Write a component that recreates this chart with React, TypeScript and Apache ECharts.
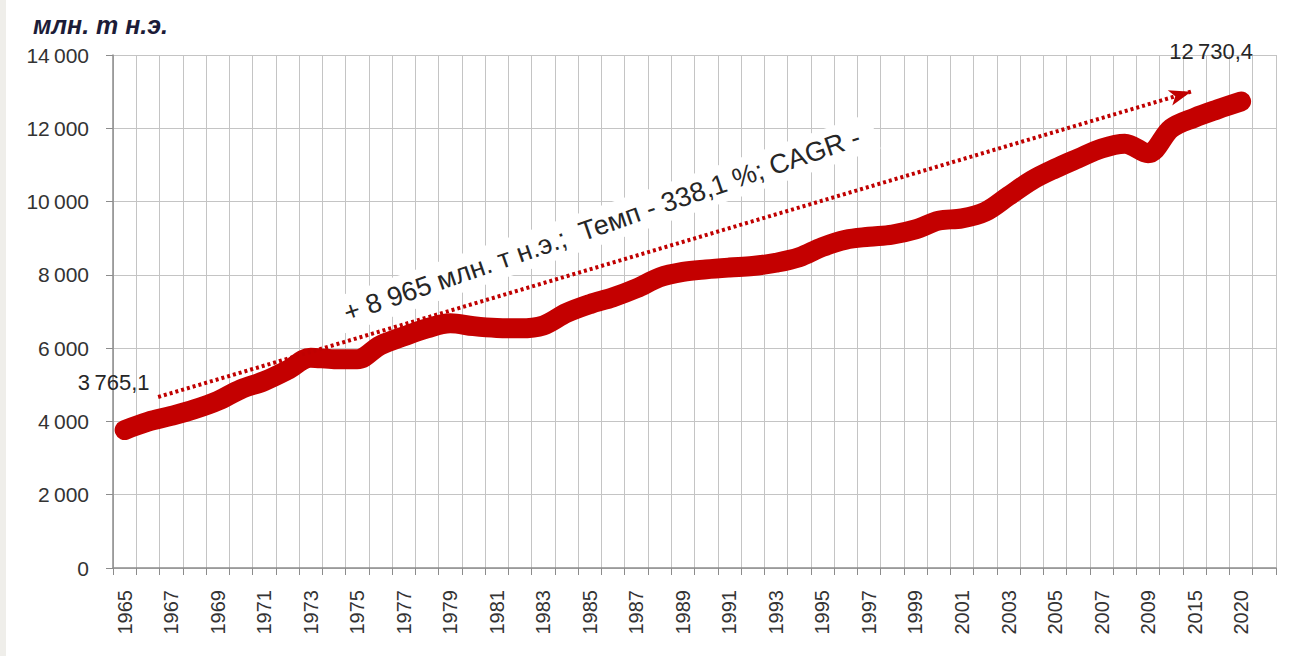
import React, { useEffect, useRef } from 'react';
import * as echarts from 'echarts';

const categories = [
  '1965', '1966', '1967', '1968', '1969', '1970', '1971', '1972', '1973', '1974',
  '1975', '1976', '1977', '1978', '1979', '1980', '1981', '1982', '1983', '1984',
  '1985', '1986', '1987', '1988', '1989', '1990', '1991', '1992', '1993', '1994',
  '1995', '1996', '1997', '1998', '1999', '2000', '2001', '2002', '2003', '2004',
  '2005', '2006', '2007', '2008', '2009', '2010', '2015', '2018', '2020', ''
];

const consumption: (number | null)[] = [
  3765.1, 3990, 4150, 4330, 4560, 4880, 5100, 5400, 5740, 5700,
  5700, 6080, 6320, 6540, 6680, 6600, 6550, 6540, 6620, 6960,
  7200, 7390, 7630, 7930, 8080, 8150, 8200, 8240, 8330, 8480,
  8760, 8960, 9040, 9100, 9240, 9480, 9540, 9720, 10150, 10580,
  10900, 11180, 11450, 11580, 11320, 12000, 12290, 12520, 12730.4, null
];

const labeledIndices = [0, 48];

// trend arrow endpoints: [category position, value]
const trendStart = [1.44, 4667];
const trendEnd = [45.85, 13000];

const unitTitle = 'млн. т н.э.';
const annotationText = '+ 8 965 млн. т н.э.;  Темп - 338,1 %; CAGR -';

const fmtThousands = (v: number) => {
  if (v < 1000) return String(v);
  const th = Math.floor(v / 1000);
  const rest = String(Math.round(v % 1000)).padStart(3, '0');
  return `${th}\u2009${rest}`;
};

const fmtDecimal = (v: number) => {
  const intPart = Math.floor(v);
  const dec = Math.round((v - intPart) * 10);
  return `${fmtThousands(intPart)},${dec}`;
};

export default function App() {
  const ref = useRef<HTMLDivElement>(null);

  useEffect(() => {
    if (!ref.current) return;
    const chart = echarts.init(ref.current, undefined, { renderer: 'svg' });
    const font = '"Liberation Sans", Arial, sans-serif';
    const red = '#c40000';

    const seriesData = consumption.map((v, i) => {
      if (labeledIndices.includes(i) && v != null) {
        const isFirst = i === 0;
        return {
          value: v,
          label: {
            show: true,
            position: 'top',
            distance: isFirst ? 36 : 39,
            offset: isFirst ? [-11, 0] : [-30, 0],
            formatter: () => fmtDecimal(v),
            fontFamily: font,
            fontSize: 22,
            color: '#262626'
          }
        };
      }
      return v;
    });

    chart.setOption({
      animation: false,
      backgroundColor: '#ffffff',
      title: {
        text: unitTitle,
        left: 28,
        top: 7,
        textStyle: {
          fontFamily: font,
          fontStyle: 'italic',
          fontWeight: 'bold',
          fontSize: 25,
          color: '#1c1c38'
        }
      },
      grid: {
        left: 113,
        right: 21,
        top: 55,
        bottom: 88,
        containLabel: false,
        outerBoundsMode: 'none'
      },
      xAxis: [
        {
          type: 'category',
          data: categories,
          boundaryGap: true,
          axisLine: { show: true, onZero: false, lineStyle: { color: '#8c8c8c', width: 1.5 } },
          axisTick: { show: true, interval: 0, length: 7, lineStyle: { color: '#8c8c8c' } },
          axisLabel: {
            interval: 1,
            rotate: 90,
            margin: 22,
            fontFamily: font,
            fontSize: 20,
            color: '#333333'
          },
          splitLine: { show: true, interval: 0, lineStyle: { color: '#c4c4c4', width: 1 } }
        },
        {
          type: 'value',
          min: -0.5,
          max: categories.length - 0.5,
          show: false,
          axisLine: { show: false, onZero: false },
          splitLine: { show: false }
        }
      ],
      yAxis: {
        type: 'value',
        min: 0,
        max: 14000,
        interval: 2000,
        axisLine: { show: true, onZero: false, lineStyle: { color: '#8c8c8c', width: 1.5 } },
        axisTick: { show: true, length: 7, lineStyle: { color: '#8c8c8c' } },
        axisLabel: {
          margin: 24,
          fontFamily: font,
          fontSize: 21,
          color: '#333333',
          formatter: (v: number) => fmtThousands(v)
        },
        splitLine: { show: true, lineStyle: { color: '#c4c4c4', width: 1 } }
      },
      series: [
        {
          type: 'line',
          data: seriesData,
          smooth: 0.35,
          showSymbol: true,
          symbol: 'circle',
          symbolSize: 0.1,
          connectNulls: false,
          lineStyle: { color: red, width: 20, cap: 'round', join: 'round' },
          itemStyle: { color: red },
          z: 3
        },
        {
          type: 'line',
          xAxisIndex: 1,
          data: [trendStart, trendEnd],
          symbol: 'none',
          lineStyle: { width: 0, opacity: 0 },
          z: 4,
          markLine: {
            silent: true,
            symbol: ['none', 'arrow'],
            symbolSize: [12, 22],
            label: { show: false },
            lineStyle: { color: '#c00000', width: 4, type: [3, 3] },
            data: [[{ coord: trendStart }, { coord: trendEnd }]]
          }
        }
      ],
      graphic: [
        {
          type: 'rect',
          left: 0,
          top: 0,
          shape: { width: 6, height: 656 },
          style: { fill: '#efeeea' },
          silent: true
        },
        {
          type: 'text',
          x: 602,
          y: 225,
          rotation: (19 * Math.PI) / 180,
          z: 2,
          style: {
            text: annotationText,
            font: `27px ${font}`,
            fill: '#262626',
            align: 'center',
            verticalAlign: 'middle',
            backgroundColor: '#ffffff',
            padding: [5, 16]
          }
        }
      ]
    });

    return () => chart.dispose();
  }, []);

  return (
    <div
      ref={ref}
      style={{ position: 'absolute', left: 0, top: 0, width: 1297, height: 656 }}
    />
  );
}
